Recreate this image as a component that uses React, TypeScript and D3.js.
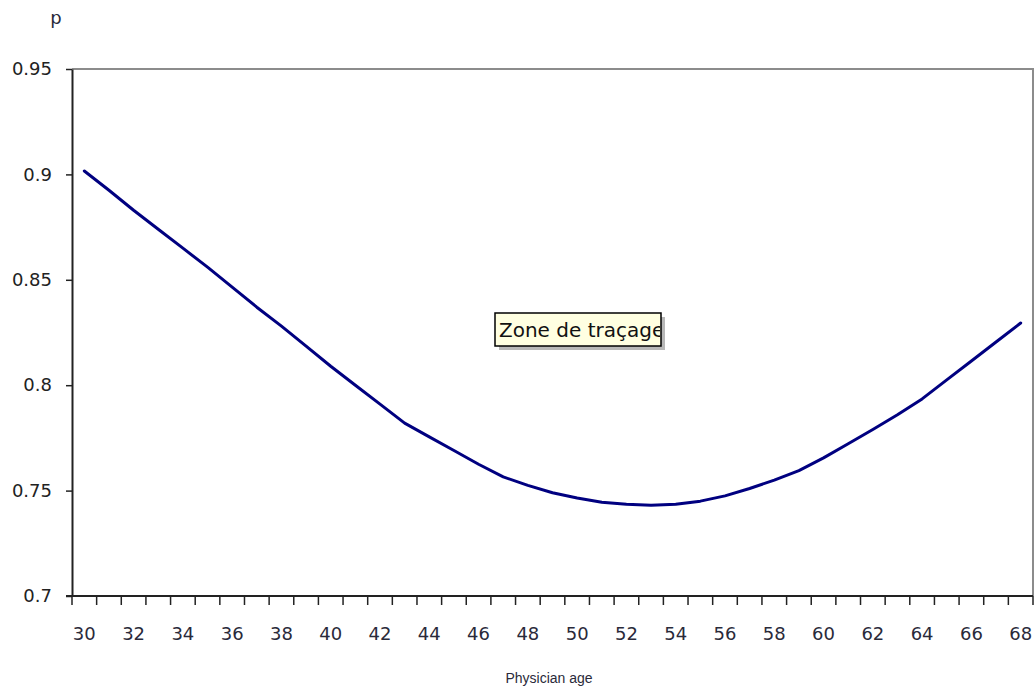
import React, { useEffect, useRef } from 'react'
import * as d3 from 'd3'

// Physician age categories and p values
const ages = [
  30, 31, 32, 33, 34, 35, 36, 37, 38, 39, 40, 41, 42, 43, 44, 45, 46, 47, 48,
  49, 50, 51, 52, 53, 54, 55, 56, 57, 58, 59, 60, 61, 62, 63, 64, 65, 66, 67, 68,
]
const pValues = [
  0.9016, 0.8925, 0.883, 0.874, 0.865, 0.856, 0.8465, 0.837, 0.828, 0.8185,
  0.809, 0.8, 0.791, 0.782, 0.7755, 0.769, 0.7625, 0.7565, 0.7525, 0.749,
  0.7465, 0.7445, 0.7435, 0.743, 0.7435, 0.745, 0.7475, 0.751, 0.755, 0.7595,
  0.7655, 0.7722, 0.779, 0.786, 0.7935, 0.8025, 0.8115, 0.8205, 0.8295,
]
const yTicks = [0.7, 0.75, 0.8, 0.85, 0.9, 0.95]
const xLabelAges = ages.filter((a) => a % 2 === 0)

const W = 1035
const H = 689

export default function App() {
  const svgRef = useRef<SVGSVGElement>(null)

  useEffect(() => {
    if (!svgRef.current) return
    const svg = d3.select(svgRef.current)
    svg.selectAll('*').remove()

    const left = 72
    const right = 1033
    const top = 69
    const bottom = 596

    const x = d3
      .scaleBand<number>()
      .domain(ages)
      .range([left, right])
      .padding(0)
    const y = d3.scaleLinear().domain([0.7, 0.95]).range([bottom, top])

    svg.append('rect').attr('width', W).attr('height', H).attr('fill', '#fff')

    // plot frame (top and right in gray)
    svg
      .append('path')
      .attr('d', `M${left},${top}H${right}V${bottom}`)
      .attr('fill', 'none')
      .attr('stroke', '#8c8c8c')
      .attr('stroke-width', 2)

    // y axis
    const yAxis = svg
      .append('g')
      .attr('transform', `translate(${left},0)`)
      .call(
        d3
          .axisLeft(y)
          .tickValues(yTicks)
          .tickSize(6)
          .tickSizeOuter(0)
          .tickFormat((d) => String(+(+d).toFixed(2))),
      )
    yAxis.select('.domain').attr('stroke', '#222').attr('stroke-width', 2)
    yAxis.selectAll('.tick line').attr('stroke', '#222').attr('stroke-width', 1.5)
    yAxis
      .selectAll('.tick text')
      .attr('x', -20)
      .attr('fill', '#222')
      .style('font-family', 'DejaVu Sans')
      .style('font-size', '18px')

    // x axis baseline and category ticks
    svg
      .append('line')
      .attr('x1', left - 6)
      .attr('x2', right)
      .attr('y1', bottom)
      .attr('y2', bottom)
      .attr('stroke', '#222')
      .attr('stroke-width', 2)

    const boundaries = ages.map((a) => x(a) as number).concat([right])
    svg
      .append('g')
      .selectAll('line')
      .data(boundaries)
      .join('line')
      .attr('x1', (d) => d)
      .attr('x2', (d) => d)
      .attr('y1', bottom)
      .attr('y2', bottom + 9)
      .attr('stroke', '#222')
      .attr('stroke-width', 1.5)

    svg
      .append('g')
      .selectAll('text')
      .data(xLabelAges)
      .join('text')
      .attr('x', (d) => (x(d) as number) + x.bandwidth() / 2)
      .attr('y', 640)
      .attr('text-anchor', 'middle')
      .attr('fill', '#2a2a3a')
      .style('font-family', 'DejaVu Sans')
      .style('font-size', '18px')
      .text((d) => String(d))

    // axis titles
    svg
      .append('text')
      .attr('x', 549)
      .attr('y', 683)
      .attr('text-anchor', 'middle')
      .attr('fill', '#2a2a3a')
      .style('font-family', 'Liberation Sans')
      .style('font-size', '14px')
      .text('Physician age')

    svg
      .append('text')
      .attr('x', 56)
      .attr('y', 24)
      .attr('text-anchor', 'middle')
      .attr('fill', '#2a2a3a')
      .style('font-family', 'DejaVu Sans')
      .style('font-size', '18px')
      .text('p')

    // the series
    const line = d3
      .line<number>()
      .x((_, i) => (x(ages[i]) as number) + x.bandwidth() / 2)
      .y((d) => y(d))

    svg
      .append('path')
      .datum(pValues)
      .attr('d', line)
      .attr('fill', 'none')
      .attr('stroke', '#000080')
      .attr('stroke-width', 3)
      .attr('stroke-linejoin', 'round')
      .attr('stroke-linecap', 'round')

    // "Zone de traçage" tooltip
    const tip = { x: 495, y: 313, w: 166, h: 33 }
    svg
      .append('rect')
      .attr('x', tip.x + 4)
      .attr('y', tip.y + 4)
      .attr('width', tip.w)
      .attr('height', tip.h)
      .attr('fill', '#b8b8b8')
    svg
      .append('rect')
      .attr('x', tip.x)
      .attr('y', tip.y)
      .attr('width', tip.w)
      .attr('height', tip.h)
      .attr('fill', '#ffffe1')
      .attr('stroke', '#000')
      .attr('stroke-width', 1.5)
    svg
      .append('clipPath')
      .attr('id', 'tipclip')
      .append('rect')
      .attr('x', tip.x)
      .attr('y', tip.y)
      .attr('width', tip.w - 1)
      .attr('height', tip.h)
    svg
      .append('text')
      .attr('clip-path', 'url(#tipclip)')
      .attr('x', tip.x + 4)
      .attr('y', tip.y + 24)
      .attr('fill', '#111')
      .style('font-family', 'DejaVu Sans')
      .style('font-size', '20px')
      .text('Zone de traçage')
  }, [])

  return (
    <svg
      ref={svgRef}
      width={W}
      height={H}
      style={{ position: 'fixed', left: 0, top: 0, display: 'block' }}
    />
  )
}
